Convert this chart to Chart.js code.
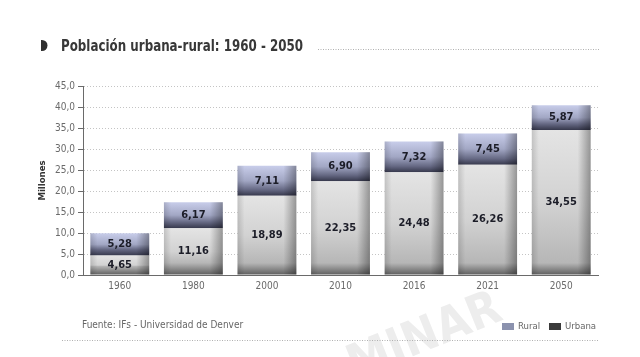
<!DOCTYPE html>
<html><head><meta charset="utf-8">
<script src="https://cdn.jsdelivr.net/npm/chart.js@4.4.1/dist/chart.umd.min.js"></script>
<style>html,body{margin:0;padding:0;background:#fff}#wrap{width:640px;height:357px}</style>
</head><body><div id="wrap"><canvas id="c" width="640" height="357"></canvas></div>
<script>
const categories = ['1960','1980','2000','2010','2016','2021','2050'];
const urbana = [4.65, 11.16, 18.89, 22.35, 24.48, 26.26, 34.55];
const rural = [5.28, 6.17, 7.11, 6.90, 7.32, 7.45, 5.87];
const yTicks = [0,5,10,15,20,25,30,35,40,45];
const titleText = 'Población urbana-rural: 1960 - 2050';
const sourceText = 'Fuente: IFs - Universidad de Denver';
const yTitle = 'Millones';
const watermark = 'MINAR';

const NARROW = "'Liberation Sans Narrow','DejaVu Sans Condensed',Arial,sans-serif";
const fmt = v => v.toFixed(2).replace('.', ',');

function segGrad(ctx, kind) {
  const chart = ctx.chart, ys = chart.scales && chart.scales.y;
  const fallback = kind === 'rural' ? '#8a90ad' : '#c6c6c6';
  if (!chart.chartArea || !ys || ctx.dataIndex === undefined) return fallback;
  const j = ctx.dataIndex;
  const base = kind === 'rural' ? urbana[j] : 0;
  const top = base + (kind === 'rural' ? rural[j] : urbana[j]);
  const y0 = ys.getPixelForValue(top), y1 = ys.getPixelForValue(base);
  if (!isFinite(y0) || !isFinite(y1) || y1 - y0 < 1) return fallback;
  const h = y1 - y0;
  const g = chart.ctx.createLinearGradient(0, y0, 0, y1);
  if (kind === 'rural') {
    g.addColorStop(0, '#c8cdea');
    g.addColorStop(0.5, '#a2a7c4');
    g.addColorStop(Math.max(0.55, 1 - 6 / h), '#666984');
    g.addColorStop(1, '#36384c');
  } else {
    g.addColorStop(0, '#e4e4e4');
    g.addColorStop(0.5, '#d2d2d2');
    g.addColorStop(Math.max(0.55, 1 - 12 / h), '#b6b6b6');
    g.addColorStop(1, '#5e5e5e');
  }
  return g;
}

const deco = {
  id: 'deco',
  beforeDraw(chart) {
    const c = chart.ctx;
    c.save();
    c.fillStyle = '#fff'; c.fillRect(0, 0, chart.width, chart.height);
    c.translate(425, 338); c.rotate(-22 * Math.PI / 180);
    c.fillStyle = '#ededed';
    c.font = "bold 48px " + NARROW;
    c.textAlign = 'center'; c.textBaseline = 'middle';
    c.fillText(watermark, 0, 0);
    c.restore();
  },
  afterDatasetsDraw(chart) {
    const c = chart.ctx;
    c.save();
    chart.data.datasets.forEach((ds, i) => {
      chart.getDatasetMeta(i).data.forEach(el => {
        const l = el.x - el.width / 2, r = el.x + el.width / 2;
        const g = c.createLinearGradient(l, 0, r, 0);
        g.addColorStop(0, 'rgba(0,0,0,0.14)');
        g.addColorStop(0.12, 'rgba(0,0,0,0)');
        g.addColorStop(0.78, 'rgba(0,0,0,0)');
        g.addColorStop(1, 'rgba(0,0,0,0.34)');
        c.fillStyle = g;
        c.fillRect(l, Math.min(el.y, el.base), el.width, Math.abs(el.base - el.y));
      });
    });
    c.font = "bold 11px " + NARROW;
    c.fillStyle = '#1c1d28';
    c.textAlign = 'center'; c.textBaseline = 'middle';
    chart.data.datasets.forEach((ds, i) => {
      chart.getDatasetMeta(i).data.forEach((el, j) => {
        c.fillText(fmt(ds.data[j]), el.x, (el.y + el.base) / 2);
      });
    });
    c.restore();
  },
  afterDraw(chart) {
    const c = chart.ctx;
    c.save();
    c.fillStyle = '#2f2f2f';
    c.beginPath();
    c.moveTo(41, 40); c.arc(42, 45.5, 5.5, -Math.PI / 2, Math.PI / 2); c.lineTo(41, 51); c.closePath(); c.fill();
    // title, fitted to the reference width
    c.font = "bold 15px " + NARROW;
    c.fillStyle = '#383838';
    c.textAlign = 'left'; c.textBaseline = 'alphabetic';
    const w = c.measureText(titleText).width;
    c.save(); c.translate(61, 51); c.scale(Math.min(1, 242 / w), 1);
    c.fillText(titleText, 0, 0); c.restore();
    c.strokeStyle = '#b0b0b0'; c.lineWidth = 1; c.setLineDash([1, 1.5]);
    c.beginPath(); c.moveTo(318, 49.5); c.lineTo(600, 49.5); c.stroke();
    c.beginPath(); c.moveTo(62, 340.5); c.lineTo(598, 340.5); c.stroke();
    c.setLineDash([]);
    c.font = "10px " + NARROW;
    c.fillStyle = '#666';
    c.textBaseline = 'middle';
    c.fillText(sourceText, 82, 325);
    c.font = "9.5px " + NARROW;
    const items = [
      {label: chart.data.datasets[1].label, color: '#8b92ae', x: 502},
      {label: chart.data.datasets[0].label, color: '#3a3a3a', x: 549}
    ];
    items.forEach(it => {
      c.fillStyle = it.color; c.fillRect(it.x, 323, 12, 7);
      c.fillStyle = '#666'; c.fillText(it.label, it.x + 16, 327);
    });
    c.restore();
  }
};

new Chart(document.getElementById('c'), {
  type: 'bar',
  data: {
    labels: categories,
    datasets: [
      {label: 'Urbana', data: urbana, backgroundColor: ctx => segGrad(ctx, 'urbana'), borderWidth: 0},
      {label: 'Rural', data: rural, backgroundColor: ctx => segGrad(ctx, 'rural'), borderWidth: 0}
    ]
  },
  options: {
    responsive: false, animation: false,
    layout: {padding: {left: 0, right: 42, top: 86, bottom: 0}},
    datasets: {bar: {categoryPercentage: 1, barPercentage: 0.8}},
    plugins: {legend: {display: false}, tooltip: {enabled: false}},
    scales: {
      x: {
        stacked: true,
        grid: {display: false, drawTicks: false, tickLength: 0},
        border: {display: true, color: '#6a6a6a', width: 1},
        ticks: {color: '#6a6a6a', font: {family: NARROW, size: 10}, padding: 5},
        afterFit(s) { s.height = 82; }
      },
      y: {
        stacked: true, min: 0, max: 45,
        afterBuildTicks(s) { s.ticks = yTicks.map(v => ({value: v})); },
        grid: {color: '#c4c4c4', tickLength: 5, tickColor: '#6a6a6a', tickBorderDash: [], drawTicks: true},
        border: {display: true, color: '#6a6a6a', width: 1, dash: [1, 2]},
        ticks: {color: '#6a6a6a', font: {family: NARROW, size: 10}, padding: 3, callback: v => v.toFixed(1).replace('.', ',')},
        title: {display: true, text: yTitle, color: '#333', font: {family: NARROW, size: 9.5, weight: 'bold'}, padding: {top: 37, bottom: 0}},
        afterFit(s) { s.width = 83; }
      }
    }
  },
  plugins: [deco]
});
</script></body></html>
